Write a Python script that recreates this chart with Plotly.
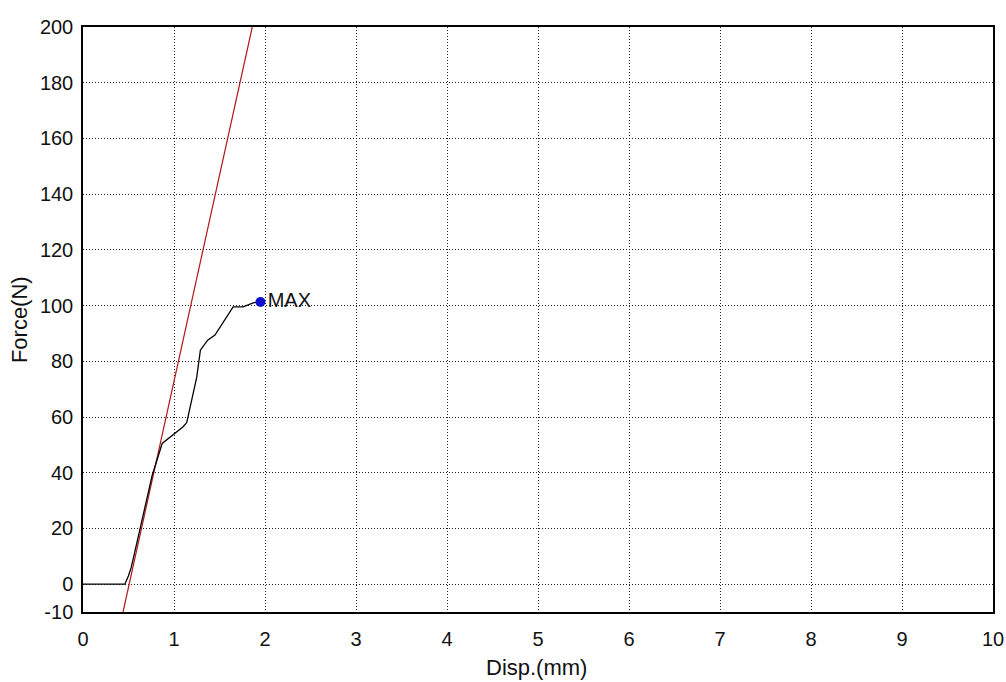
import plotly.graph_objects as go

# Measured curve (Disp mm, Force N)
disp = [0.0, 0.46, 0.50, 0.53, 0.60, 0.68, 0.76, 0.87, 0.98, 1.10, 1.14, 1.18, 1.25, 1.29,
        1.37, 1.45, 1.54, 1.65, 1.76, 1.87, 1.95]
force = [0.0, 0.0, 3.0, 6.0, 16.0, 27.0, 39.0, 50.5, 53.5, 56.5, 58.0, 63.6, 74.3, 84.0,
         87.6, 89.4, 94.0, 99.5, 99.5, 101.0, 101.3]

# Fitted slope line endpoints
fit_x = [0.44, 1.86]
fit_y = [-10.0, 200.0]

max_x = [1.95]
max_y = [101.3]

x_ticks = [0, 1, 2, 3, 4, 5, 6, 7, 8, 9, 10]
y_ticks = [-10, 0, 20, 40, 60, 80, 100, 120, 140, 160, 180, 200]
y_tick_text = ["-10", "0", "20", "40", "60", "80", "100", "120", "140", "160", "180", "200"]

x_title = "Disp.(mm)"
y_title = "Force(N)"

font = "Liberation Sans, Arial, sans-serif"

fig = go.Figure()
fig.add_trace(go.Scatter(x=fit_x, y=fit_y, mode="lines",
                         line=dict(color="#b01818", width=1.2), showlegend=False))
fig.add_trace(go.Scatter(x=disp, y=force, mode="lines",
                         line=dict(color="black", width=1.3), showlegend=False))
fig.add_trace(go.Scatter(x=max_x, y=max_y, mode="markers+text", text=["MAX"],
                         textposition="middle right",
                         textfont=dict(family=font, size=20, color="#111"),
                         marker=dict(color="#1010d0", size=10), showlegend=False))

axis_common = dict(
    showline=True, linecolor="black", linewidth=1.5, mirror=True,
    showgrid=True, gridcolor="#222", gridwidth=1, griddash="1px,2px",
    zeroline=False, ticks="", automargin=False,
    tickfont=dict(family=font, size=20, color="#111"),
)

fig.update_xaxes(range=[0, 10], tickvals=x_ticks, ticklabelstandoff=8, **axis_common)
fig.update_yaxes(range=[-10, 200], tickvals=y_ticks, ticktext=y_tick_text,
                 ticklabelstandoff=4, **axis_common)

fig.add_annotation(text=x_title, xref="paper", yref="paper", x=0.498, y=-0.0957,
                   showarrow=False, xanchor="center", yanchor="middle",
                   font=dict(family=font, size=22, color="#111"))
fig.add_annotation(text=y_title, xref="paper", yref="paper", x=-0.0703, y=0.499,
                   showarrow=False, xanchor="center", yanchor="middle", textangle=-90,
                   font=dict(family=font, size=22, color="#111"))

fig.update_layout(
    width=1006, height=682,
    margin=dict(l=83, r=13, t=27, b=70),
    plot_bgcolor="white", paper_bgcolor="white",
)

fig.write_html(
    "out.html",
    config={"displayModeBar": False},
    post_script="document.body.style.margin='0';document.body.style.overflow='hidden';",
)
